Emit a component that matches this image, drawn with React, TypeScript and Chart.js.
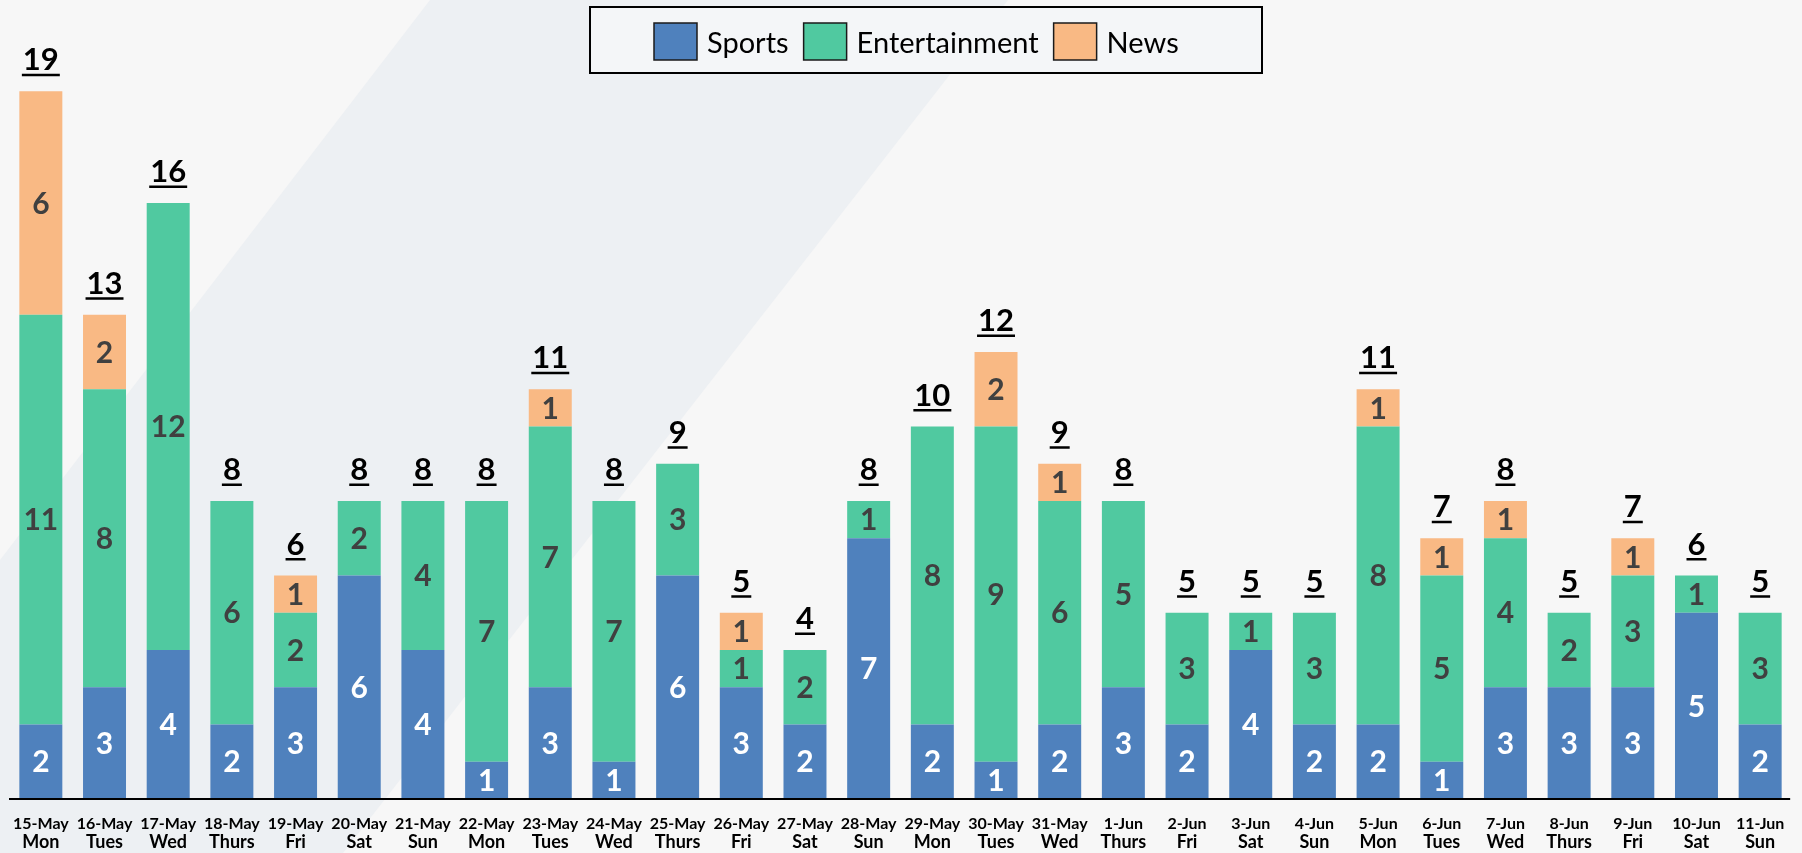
import React, { useEffect, useRef } from 'react';
import { Chart, registerables } from 'chart.js';

Chart.register(...registerables);

const dates = ['15-May','16-May','17-May','18-May','19-May','20-May','21-May','22-May','23-May','24-May','25-May','26-May','27-May','28-May','29-May','30-May','31-May','1-Jun','2-Jun','3-Jun','4-Jun','5-Jun','6-Jun','7-Jun','8-Jun','9-Jun','10-Jun','11-Jun'];
const weekdays = ['Mon','Tues','Wed','Thurs','Fri','Sat','Sun','Mon','Tues','Wed','Thurs','Fri','Sat','Sun','Mon','Tues','Wed','Thurs','Fri','Sat','Sun','Mon','Tues','Wed','Thurs','Fri','Sat','Sun'];
const sports =        [2, 3, 4, 2, 3, 6, 4, 1, 3, 1, 6, 3, 2, 7, 2, 1, 2, 3, 2, 4, 2, 2, 1, 3, 3, 3, 5, 2];
const entertainment = [11, 8, 12, 6, 2, 2, 4, 7, 7, 7, 3, 1, 2, 1, 8, 9, 6, 5, 3, 1, 3, 8, 5, 4, 2, 3, 1, 3];
const news =          [6, 2, 0, 0, 1, 0, 0, 0, 1, 0, 0, 1, 0, 0, 0, 2, 1, 0, 0, 0, 0, 1, 1, 1, 0, 1, 0, 0];
const seriesNames = ['Sports', 'Entertainment', 'News'];
const seriesColors = ['#4f81bd', '#50c9a0', '#f9b984'];
const labelColors = ['#ffffff', '#404040', '#404040'];

const FONT = 'Lato, "Open Sans", sans-serif';

const bgPlugin = {
  id: 'bgPlugin',
  beforeDraw(chart: any) {
    const { ctx, width, height } = chart;
    ctx.save();
    ctx.fillStyle = '#f7f7f7';
    ctx.fillRect(0, 0, width, height);
    ctx.fillStyle = '#edf0f3';
    ctx.beginPath();
    ctx.moveTo(430, 0);
    ctx.lineTo(1008, 0);
    ctx.lineTo(343, height);
    ctx.lineTo(0, height);
    ctx.lineTo(0, 560);
    ctx.closePath();
    ctx.fill();
    ctx.restore();
  },
};

const labelPlugin = {
  id: 'labelPlugin',
  afterDatasetsDraw(chart: any) {
    const { ctx, scales } = chart;
    const xs = scales.x;
    const ys = scales.y;
    ctx.save();
    // segment labels
    ctx.textAlign = 'center';
    ctx.textBaseline = 'middle';
    ctx.font = `bold 30px ${FONT}`;
    chart.data.datasets.forEach((ds: any, i: number) => {
      const meta = chart.getDatasetMeta(i);
      meta.data.forEach((bar: any, j: number) => {
        const v = ds.data[j];
        if (!v) return;
        const p = bar.getProps(['x', 'y', 'base'], true);
        ctx.fillStyle = labelColors[i];
        ctx.fillText(String(v), p.x, (p.y + p.base) / 2 + 1);
      });
    });
    // totals
    ctx.font = `bold 31px ${FONT}`;
    ctx.textBaseline = 'alphabetic';
    ctx.fillStyle = '#000000';
    dates.forEach((_, j) => {
      const total = sports[j] + entertainment[j] + news[j];
      const x = xs.getPixelForValue(j);
      const top = ys.getPixelForValue(total);
      const txt = String(total);
      const w = ctx.measureText(txt).width;
      ctx.fillText(txt, x, top - 21);
      ctx.fillRect(x - w / 2 - 1, top - 17.5, w + 2, 2.5);
    });
    // axis line
    const y0 = ys.getPixelForValue(0);
    ctx.fillRect(chart.chartArea.left, y0 - 1, xs.getPixelForValue(dates.length - 1) + 30 - chart.chartArea.left, 2);
    // x labels
    ctx.textAlign = 'center';
    dates.forEach((d, j) => {
      const x = xs.getPixelForValue(j);
      ctx.font = `bold 16px ${FONT}`;
      ctx.fillText(d, x, 829);
      ctx.font = `bold 18px ${FONT}`;
      ctx.fillText(weekdays[j], x, 848);
    });
    // legend
    ctx.fillStyle = '#f4f6f8';
    ctx.fillRect(590, 7, 672, 66);
    ctx.lineWidth = 2;
    ctx.strokeStyle = '#000000';
    ctx.strokeRect(590, 7, 672, 66);
    ctx.font = `29px ${FONT}`;
    ctx.textAlign = 'left';
    let lx = 654;
    seriesNames.forEach((name, i) => {
      ctx.fillStyle = seriesColors[i];
      ctx.fillRect(lx, 23, 43, 37);
      ctx.lineWidth = 1.5;
      ctx.strokeStyle = '#1a1a1a';
      ctx.strokeRect(lx, 23, 43, 37);
      ctx.fillStyle = '#000000';
      ctx.fillText(name, lx + 53, 53);
      lx += 53 + ctx.measureText(name).width + 15;
    });
    ctx.restore();
  },
};

export default function App() {
  const ref = useRef<HTMLCanvasElement | null>(null);
  useEffect(() => {
    let chart: Chart | null = null;
    let cancelled = false;
    const make = () => {
      if (cancelled || !ref.current) return;
      chart = new Chart(ref.current, {
        type: 'bar',
        data: {
          labels: dates,
          datasets: seriesNames.map((name, i) => ({
            label: name,
            data: [sports, entertainment, news][i],
            backgroundColor: seriesColors[i],
            borderWidth: 0,
            stack: 's',
          })),
        },
        options: {
          animation: false,
          responsive: false,
          devicePixelRatio: 1,
          layout: { padding: { left: 9, right: 10, top: 54, bottom: 54 } },
          categoryPercentage: 1,
          barPercentage: 0.675,
          plugins: { legend: { display: false }, tooltip: { enabled: false } },
          scales: {
            x: { stacked: true, display: false },
            y: { stacked: true, display: false, min: 0, max: 20 },
          },
        } as any,
        plugins: [bgPlugin, labelPlugin],
      });
    };
    const fonts = (document as any).fonts;
    if (fonts && fonts.load) {
      Promise.all([fonts.load(`bold 30px Lato`), fonts.load(`29px Lato`)]).then(make, make);
    } else {
      make();
    }
    return () => {
      cancelled = true;
      if (chart) chart.destroy();
    };
  }, []);
  return (
    <div style={{ position: 'fixed', left: 0, top: 0, width: 1802, height: 853, background: '#f7f7f7' }}>
      <canvas ref={ref} width={1802} height={853} style={{ display: 'block', width: 1802, height: 853 }} />
    </div>
  );
}
